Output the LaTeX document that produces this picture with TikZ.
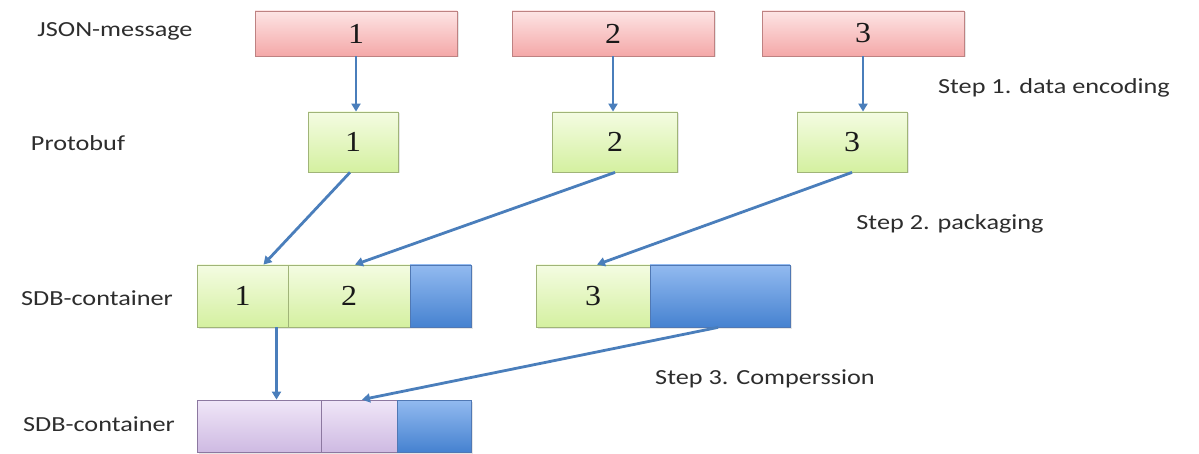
\documentclass[tikz,border=0pt]{standalone}
\usepackage{fontspec}
\setmainfont{Liberation Serif}
\newfontfamily\labfont[FakeStretch=1.22]{Carlito}
\newfontfamily\numfont[FakeStretch=1.1]{Liberation Serif}
\usetikzlibrary{arrows.meta,shadows}
\definecolor{arrowblue}{RGB}{74,126,187}
\definecolor{labgray}{RGB}{45,45,45}
\definecolor{redtop}{RGB}{253,228,228}
\definecolor{redbot}{RGB}{244,168,168}
\definecolor{redline}{RGB}{190,130,130}
\definecolor{greentop}{RGB}{244,252,226}
\definecolor{greenbot}{RGB}{212,240,160}
\definecolor{greenline}{RGB}{160,180,120}
\definecolor{bluetop}{RGB}{146,186,240}
\definecolor{bluebot}{RGB}{70,130,208}
\definecolor{blueline}{RGB}{80,120,180}
\definecolor{purptop}{RGB}{240,230,248}
\definecolor{purpbot}{RGB}{206,186,226}
\definecolor{purpline}{RGB}{140,120,160}
\tikzset{
  box/.style={draw, line width=0.8pt, inner sep=0pt, font=\numfont\fontsize{29}{32}\selectfont,
     text=black!90, drop shadow={opacity=0.2, shadow xshift=1.5pt, shadow yshift=-1.5pt}},
  redbox/.style={box, draw=redline, top color=redtop, bottom color=redbot},
  greenbox/.style={box, draw=greenline, top color=greentop, bottom color=greenbot},
  bluebox/.style={box, draw=blueline, top color=bluetop, bottom color=bluebot},
  purpbox/.style={box, draw=purpline, top color=purptop, bottom color=purpbot},
  lab/.style={font=\labfont\fontsize{21.5}{24}\selectfont, text=labgray, inner sep=0pt},
  flow/.style={draw=arrowblue, line width=2.8pt, -{Triangle[length=8pt,width=9pt]}, shorten >=0pt},
}
\begin{document}
\begin{tikzpicture}[x=1pt,y=-1pt]
\useasboundingbox (0,0) rectangle (1199,454);
% labels
\node[lab] (lj) at (115,31) {JSON-message};
\node[lab] (lp) at (78,143) {Protobuf};
\node[lab] (ls1) at (97,298) {SDB-container};
\node[lab] (ls2) at (99,424) {SDB-container};
\node[lab] (st1) at (1054,88) {Step 1. data encoding};
\node[lab] (st2) at (950,224) {Step 2. packaging};
\node[lab] (st3) at (765,379) {Step 3. Comperssion};
% JSON row
\node[redbox, minimum width=202pt, minimum height=45pt] (r1) at (356,33.5) {1};
\node[redbox, minimum width=202pt, minimum height=45pt] (r2) at (613,33.5) {2};
\node[redbox, minimum width=202pt, minimum height=45pt] (r3) at (863,33.5) {3};
% Protobuf row
\node[greenbox, minimum width=90pt, minimum height=60pt] (g1) at (353,142) {1};
\node[greenbox, minimum width=125pt, minimum height=60pt] (g2) at (615,142) {2};
\node[greenbox, minimum width=110pt, minimum height=60pt] (g3) at (852,142) {3};
% SDB container row 1
\node[greenbox, minimum width=91pt, minimum height=62pt] (c1) at (242.5,296) {1};
\node[greenbox, minimum width=122pt, minimum height=62pt] (c2) at (349,296) {2};
\node[bluebox, minimum width=61pt, minimum height=62pt] (c3) at (440.5,296) {};
\node[greenbox, minimum width=114pt, minimum height=62pt] (d1) at (593,296) {3};
\node[bluebox, minimum width=140pt, minimum height=62pt] (d2) at (720,296) {};
% SDB container row 2
\node[purpbox, minimum width=124pt, minimum height=52pt] (p1) at (259,426) {};
\node[purpbox, minimum width=76pt, minimum height=52pt] (p2) at (359,426) {};
\node[bluebox, minimum width=74pt, minimum height=52pt] (p3) at (434,426) {};
% arrows
\draw[flow] (r1.south) -- (r1.south |- g1.north);
\draw[flow] (r2.south) -- (r2.south |- g2.north);
\draw[flow] (r3.south) -- (r3.south |- g3.north);
\draw[flow] ([xshift=-3pt]g1.south) -- ([xshift=21pt]c1.north);
\draw[flow] (g2.south) -- ([xshift=6pt]c2.north);
\draw[flow] (g3.south) -- ([xshift=4pt]d1.north);
\draw[flow] ([xshift=-2pt]d2.south) -- ([xshift=3pt]p2.north);
\draw[flow] ([xshift=34pt]c1.south) -- ([xshift=34pt]c1.south |- p1.north);
\end{tikzpicture}
\end{document}
